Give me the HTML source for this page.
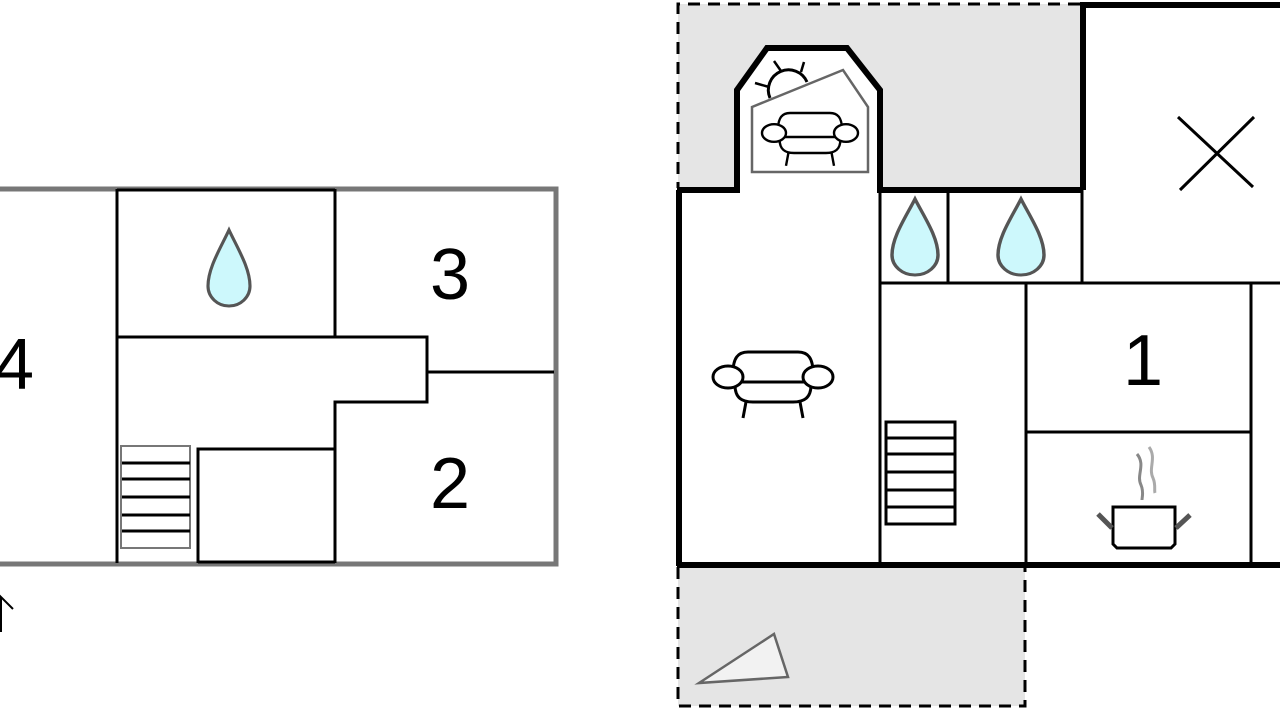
<!DOCTYPE html>
<html><head><meta charset="utf-8"><style>
html,body{margin:0;padding:0;background:#fff;width:1280px;height:720px;overflow:hidden}
svg{display:block}
text{font-family:"Liberation Sans",sans-serif;font-size:72px;fill:#000}
</style></head><body>
<svg width="1280" height="720" viewBox="0 0 1280 720" xmlns="http://www.w3.org/2000/svg">
<defs>
<g id="sofa" fill="#fff" stroke="#000" stroke-width="3">
<path d="M-40,-4 C-40,-19 -35,-25 -25,-25 H25 C35,-25 40,-19 40,-4"/>
<path d="M-38,8 C-38,21 -31,25 -20,25 H20 C31,25 38,21 38,8"/>
<line x1="-32" y1="5" x2="32" y2="5"/>
<ellipse cx="-45" cy="0" rx="15" ry="11"/>
<ellipse cx="45" cy="0" rx="15" ry="11"/>
<path d="M-27,25 L-30,41 M27,25 L30,41" fill="none"/>
</g>
<path id="drop" d="M0,0 C8,18 20,38 20,56 A20,20 0 0 1 -20,56 C-20,38 -8,18 0,0Z" fill="#cdf8fc" stroke="#555" stroke-width="3"/>
</defs>

<!-- LEFT PLAN -->
<rect x="-10" y="189" width="566" height="375" fill="#fff" stroke="#777" stroke-width="5"/>
<g stroke="#000" stroke-width="3" fill="none">
<line x1="117" y1="189" x2="117" y2="563"/>
<line x1="117" y1="190" x2="335" y2="190"/>
<line x1="335" y1="189" x2="335" y2="337"/>
<polyline points="117,337 427,337 427,402 335,402 335,563"/>
<line x1="427" y1="372" x2="554" y2="372"/>
<polyline points="198,563 198,449 335,449"/>
<line x1="198" y1="562" x2="335" y2="562"/>
</g>
<rect x="121" y="446" width="69" height="102" fill="none" stroke="#777" stroke-width="2"/>
<g stroke="#000" stroke-width="3">
<line x1="122" y1="463" x2="190" y2="463"/><line x1="122" y1="479" x2="190" y2="479"/>
<line x1="122" y1="497" x2="190" y2="497"/><line x1="122" y1="515" x2="190" y2="515"/>
<line x1="122" y1="531" x2="190" y2="531"/>
</g>
<use href="#drop" transform="translate(229,230) scale(1.05,1.0)"/>
<text x="-6" y="389">4</text>
<text x="430" y="299">3</text>
<text x="430" y="508">2</text>
<path d="M1,632 L1,597 L13,609" fill="none" stroke="#000" stroke-width="2"/>

<!-- RIGHT PLAN -->
<rect x="678" y="4" width="403" height="184" fill="#e5e5e5"/>
<path d="M1080,4 H678 V188" fill="none" stroke="#000" stroke-width="3" stroke-dasharray="12,8"/>
<rect x="678" y="567" width="347" height="139" fill="#e5e5e5"/>
<path d="M678,567 V706 H1025 V567" fill="none" stroke="#000" stroke-width="3" stroke-dasharray="12,8"/>
<rect x="1083" y="5" width="200" height="183" fill="#fff"/>
<rect x="679" y="190" width="601" height="374" fill="#fff"/>
<polygon points="737,190 737,90 767,47 847,47 880,90 880,190" fill="#fff"/>
<g stroke="#000" stroke-width="6" fill="none">
<polyline points="677,190 737,190 737,90 767,48 847,48 880,90 880,190 1083,190"/>
<polyline points="1083,190 1083,5 1280,5"/>
<line x1="679" y1="190" x2="679" y2="566"/>
<line x1="677" y1="565" x2="1280" y2="565"/>
</g>
<g stroke="#000" stroke-width="3" fill="none">
<line x1="880" y1="190" x2="880" y2="565"/>
<line x1="948" y1="190" x2="948" y2="283"/>
<line x1="1082" y1="190" x2="1082" y2="283"/>
<line x1="880" y1="283" x2="1280" y2="283"/>
<line x1="1026" y1="283" x2="1026" y2="565"/>
<line x1="1251" y1="283" x2="1251" y2="565"/>
<line x1="1026" y1="432" x2="1251" y2="432"/>
<line x1="1178" y1="117" x2="1253" y2="187"/>
<line x1="1254" y1="117" x2="1180" y2="190"/>
</g>
<!-- sunroom -->
<path d="M770,98 A19,19 0 0 1 807,82" fill="#fff" stroke="#000" stroke-width="3"/>
<g stroke="#000" stroke-width="2.5">
<line x1="774" y1="61" x2="781" y2="71"/><line x1="804" y1="62" x2="801" y2="72"/><line x1="755" y1="83" x2="769" y2="87"/>
</g>
<polygon points="752,107 843,70 868,107 868,172 752,172" fill="none" stroke="#666" stroke-width="2.5"/>
<use href="#sofa" transform="translate(810,133) scale(0.8)"/>
<use href="#sofa" transform="translate(773,377)"/>
<use href="#drop" transform="translate(915,199) scale(1.15,1.0)"/>
<use href="#drop" transform="translate(1021,199) scale(1.15,1.0)"/>
<text x="1123" y="385">1</text>
<!-- stairs -->
<rect x="886" y="422" width="69" height="102" fill="none" stroke="#000" stroke-width="3"/>
<g stroke="#000" stroke-width="3">
<line x1="886" y1="438" x2="955" y2="438"/><line x1="886" y1="454" x2="955" y2="454"/>
<line x1="886" y1="472" x2="955" y2="472"/><line x1="886" y1="490" x2="955" y2="490"/>
<line x1="886" y1="507" x2="955" y2="507"/>
</g>
<!-- pot -->
<path d="M1113,507 H1175 V544 L1171,548 H1117 L1113,544Z" fill="#fff" stroke="#000" stroke-width="3"/>
<path d="M1098,514 L1112,528 M1190,515 L1176,528" stroke="#555" stroke-width="5"/>
<path d="M1137,454 C1146,465 1136,475 1141,485 C1144,492 1142,497 1142,500" fill="none" stroke="#888" stroke-width="3"/>
<path d="M1149,447 C1157,458 1148,468 1153,478 C1156,485 1154,490 1155,493" fill="none" stroke="#aaa" stroke-width="3"/>
<!-- terrace triangle -->
<polygon points="699,683 774,634 788,677" fill="#f2f2f2" stroke="#666" stroke-width="2.5"/>
</svg>
</body></html>
